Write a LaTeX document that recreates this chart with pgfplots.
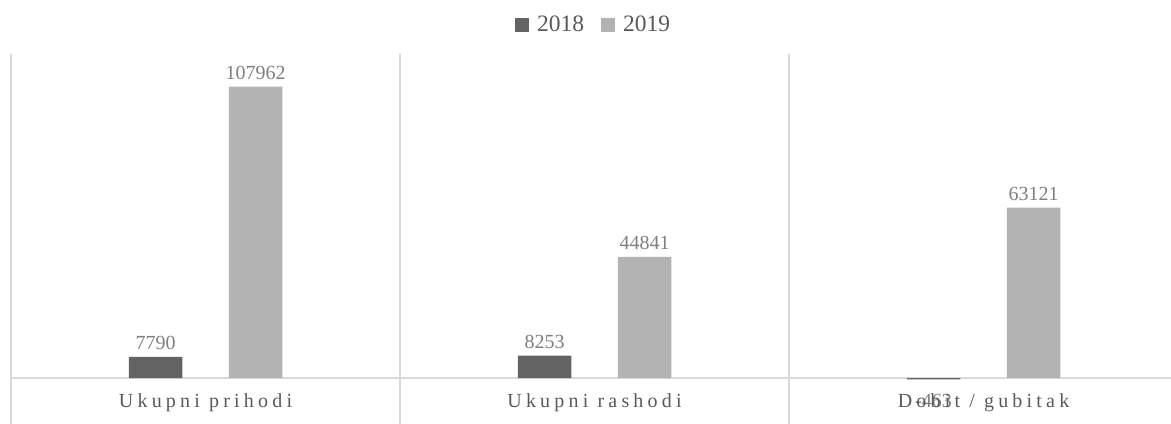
\documentclass[border=0pt]{standalone}
\usepackage{fontspec}
\setmainfont{Liberation Serif}
\newfontfamily\spaced[LetterSpace=21]{Liberation Serif}
\usepackage{pgfplots}
\pgfplotsset{compat=1.18}
\definecolor{bar18}{HTML}{636363}
\definecolor{bar19}{HTML}{B3B3B3}
\definecolor{gridc}{HTML}{D9D9D9}
\definecolor{labc}{HTML}{7F7F7F}
\definecolor{txtc}{HTML}{595959}

\begin{document}
\begin{tikzpicture}
\begin{axis}[
    at={(5.5pt,-4.5pt)}, anchor=south west,
    scale only axis,
    width=583.5pt, height=189pt,
    xmin=-0.5, xmax=2.5,
    ymin=-20000, ymax=120000,
    scaled y ticks=false,
    ybar=23.25pt, bar width=26.75pt,
    xtick={-0.5,0.5,1.5}, xticklabels={}, xmajorgrids,
    ytick={0}, yticklabels={}, ymajorgrids,
    major grid style={gridc, line width=1pt},
    major tick length=0pt,
    axis line style={draw=none},
    point meta=explicit symbolic,
    nodes near coords,
    nodes near coords style={font=\fontsize{10}{12}\selectfont, text=labc},
    legend style={at={(0.5,1)}, anchor=center, yshift=14.5pt,
        draw=none, fill=none, legend columns=2,
        font=\fontsize{11.75}{14}\selectfont, text=txtc,
        /tikz/every odd column/.append style={column sep=2pt},
        /tikz/every even column/.append style={column sep=6.5pt}},
    legend image code/.code={\fill[#1] (0pt,-3.5pt) rectangle (7pt,3.5pt);},
]
\addplot[fill=bar18, draw=none] coordinates {
    (0,7790) [7790]
    (1,8253) [8253]
    (2,-463) [{}]
};
\addlegendentry{2018}
\addplot[fill=bar19, draw=none] coordinates {
    (0,107962) [107962]
    (1,44841) [44841]
    (2,63121) [63121]
};
\addlegendentry{2019}

% negative label sits below the bar, on top of the category name (as in Excel)
\node[anchor=base, text=labc, font=\fontsize{10}{12}\selectfont, xshift=-25pt, yshift=-14.5pt]
    at (axis cs:2,0) {-463};

% category labels, letter-spaced like the original
\node[anchor=base, text=txtc, font=\spaced\fontsize{10}{12}\selectfont, yshift=-14.5pt]
    at (axis cs:0,0) {Ukupni prihodi};
\node[anchor=base, text=txtc, font=\spaced\fontsize{10}{12}\selectfont, yshift=-14.5pt]
    at (axis cs:1,0) {Ukupni rashodi};
\node[anchor=base, text=txtc, font=\spaced\fontsize{10}{12}\selectfont, yshift=-14.5pt]
    at (axis cs:2,0) {Dobit / gubitak};
\end{axis}
\pgfresetboundingbox
\useasboundingbox (0,0) rectangle (585.5pt,211.5pt);
\end{tikzpicture}
\end{document}
